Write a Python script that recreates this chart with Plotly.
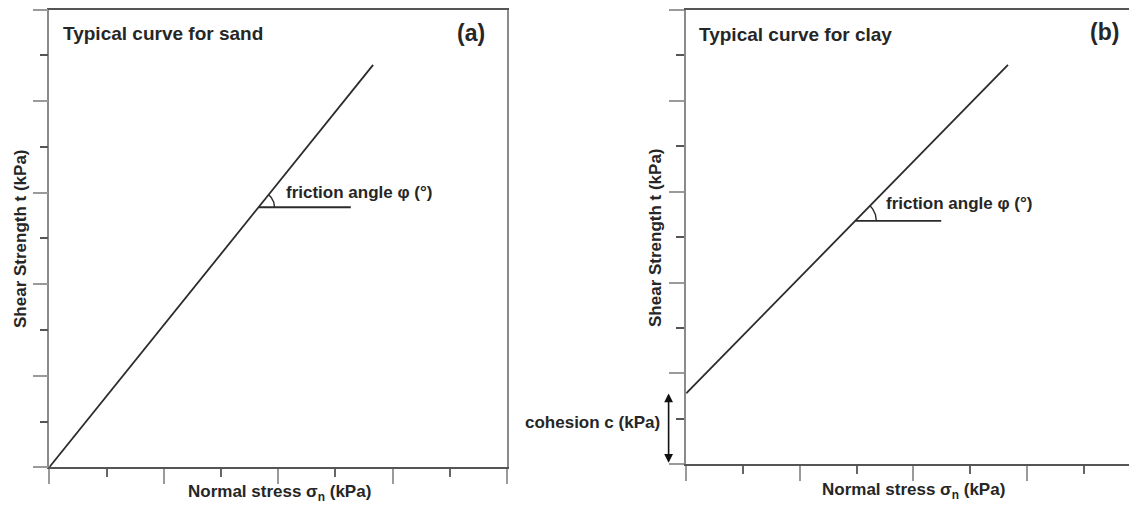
import numpy as np
import plotly.graph_objects as go

# The page places the figure 8px from the top-left corner (default body margin),
# so the figure is sized to end exactly at the 1137x505 window edge.
OFF = 8
W, H = 1137 - OFF, 505 - OFF

# ---- data (axis units: 8 x-intervals, 10 y-intervals) ----
sand_x = [0.0, 5.66]
sand_y = [0.0, 8.79]
sand_phi_level = 5.68          # tau level of the friction-angle reference line
sand_phi_end = 5.27            # x end of the horizontal reference line

clay_x = [0.0, 5.665]
clay_y = [1.56, 8.79]          # intercept = cohesion c
clay_phi_level = 5.36
clay_phi_end = 4.49

x_ticks_major = 2
y_ticks_major = 2

# ---- layout geometry (window pixels) ----
L_x0, L_x1, L_top, L_bot = 49.3, 507.0, 9.5, 467.3
R_x0, R_top, R_bot = 686.2, 10.0, 464.3
R_kx = 56.8
R_xmax = (1137 - R_x0) / R_kx

L_kx = (L_x1 - L_x0) / 8.0
L_ky = (L_bot - L_top) / 10.0
R_ky = (R_bot - R_top) / 10.0


def px(x):
    return (x - OFF) / W


def py(y):
    return 1 - (y - OFF) / H


LINE = "#2b2b2b"
TXT = "#262626"
FONT = "Liberation Sans, Arial, sans-serif"

fig = go.Figure()


def add_panel(xs, ys, level, xend, kx, ky, radius, xa, ya):
    fig.add_trace(go.Scatter(x=xs, y=ys, mode="lines", line=dict(color=LINE, width=1.8),
                             xaxis=xa, yaxis=ya, showlegend=False, hoverinfo="skip"))
    xi = float(np.interp(level, ys, xs))
    fig.add_trace(go.Scatter(x=[xi, xend], y=[level, level], mode="lines",
                             line=dict(color=LINE, width=1.8),
                             xaxis=xa, yaxis=ya, showlegend=False, hoverinfo="skip"))
    theta = np.arctan2((ys[1] - ys[0]) * ky, (xs[1] - xs[0]) * kx)
    t = np.linspace(0, theta, 30)
    fig.add_trace(go.Scatter(x=xi + radius * np.cos(t) / kx, y=level + radius * np.sin(t) / ky,
                             mode="lines", line=dict(color=LINE, width=1.4),
                             xaxis=xa, yaxis=ya, showlegend=False, hoverinfo="skip"))


add_panel(sand_x, sand_y, sand_phi_level, sand_phi_end, L_kx, L_ky, 16, "x", "y")
add_panel(clay_x, clay_y, clay_phi_level, clay_phi_end, R_kx, R_ky, 21, "x2", "y2")


def axis_common(col_line):
    return dict(showgrid=False, zeroline=False, showticklabels=False,
                showline=True, linecolor=col_line, linewidth=1.6,
                ticks="outside", ticklen=15, tickwidth=1.6, tickcolor="#9a9a9a",
                tick0=0)


xa = axis_common("#555555")
xa.update(dict(dtick=x_ticks_major,
               minor=dict(dtick=1, tick0=0, ticks="outside", ticklen=8, tickwidth=1.6,
                          tickcolor="#666666", showgrid=False)))
ya = axis_common("#8a8a8a")
ya.update(dict(dtick=y_ticks_major,
               minor=dict(dtick=1, tick0=0, ticks="outside", ticklen=8, tickwidth=1.6,
                          tickcolor="#555555", showgrid=False)))

fig.update_layout(
    width=W, height=H,
    margin=dict(l=0, r=0, t=0, b=0),
    paper_bgcolor="white", plot_bgcolor="white",
    xaxis=dict(**xa, domain=[px(L_x0), px(L_x1)], range=[0, 8], mirror=True, anchor="y"),
    yaxis=dict(**ya, domain=[py(L_bot), py(L_top)], range=[0, 10], mirror=True, anchor="x"),
    xaxis2=dict(**xa, domain=[px(R_x0), 1.0], range=[0, R_xmax], mirror=True, anchor="y2"),
    yaxis2=dict(**ya, domain=[py(R_bot), py(R_top)], range=[0, 10], mirror=False, anchor="x2"),
)


def txt(x, y, s, size, xanchor="left", angle=0):
    fig.add_annotation(x=px(x), y=py(y), xref="paper", yref="paper", text=s,
                       showarrow=False, xanchor=xanchor, yanchor="middle", textangle=angle,
                       font=dict(family=FONT, size=size, color=TXT))


B = lambda s: "<b>" + s + "</b>"
txt(61, 33, B("Typical curve for sand"), 19)
txt(471, 33, B("(a)"), 23, "center")
txt(697, 34, B("Typical curve for clay"), 19)
txt(1104, 32, B("(b)"), 23, "center")
txt(284, 192, B("friction angle φ (°)"), 17)
txt(884, 203, B("friction angle φ (°)"), 17)
txt(279, 493, B("Normal stress σ<sub>n</sub> (kPa)"), 17, "center")
txt(913, 491, B("Normal stress σ<sub>n</sub> (kPa)"), 17, "center")
txt(20, 239, B("Shear Strength t (kPa)"), 17, "center", -90)
txt(656, 238, B("Shear Strength t (kPa)"), 17, "center", -90)
txt(662, 422, B("cohesion c (kPa)"), 17, "right")

# cohesion double arrow (from axis to intercept)
fig.add_annotation(x=px(668.6), y=clay_y[0], xref="paper", yref="y2",
                   ax=0, ay=0, axref="pixel", ayref="y2",
                   showarrow=True, arrowhead=2, arrowside="end+start", arrowsize=1.1,
                   arrowwidth=1.6, arrowcolor="#111111", standoff=0, startstandoff=0, text="")

fig.write_html("out.html")
